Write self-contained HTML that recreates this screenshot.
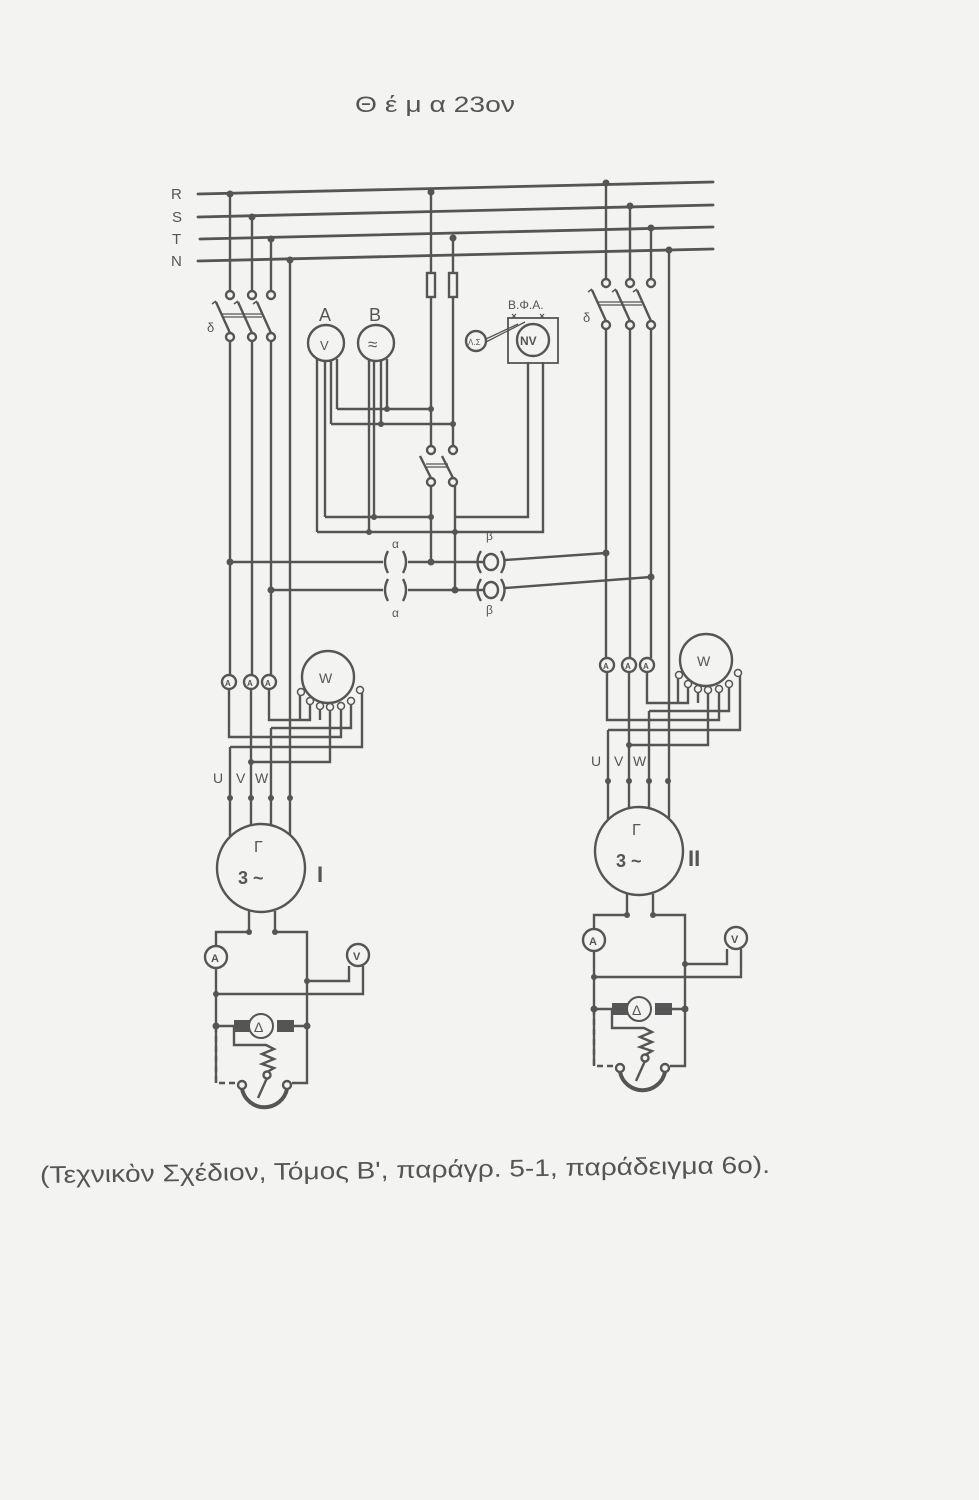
<!DOCTYPE html>
<html><head><meta charset="utf-8"><style>
html,body{margin:0;padding:0;background:#f3f3f1;}
svg{display:block;}
text{font-family:"Liberation Sans","DejaVu Sans",sans-serif;fill:#555;}
</style></head><body>
<svg width="979" height="1500" viewBox="0 0 979 1500" xmlns="http://www.w3.org/2000/svg">
<rect width="979" height="1500" fill="#f3f3f1"/>
<text x="355" y="112" font-size="22" textLength="160" lengthAdjust="spacingAndGlyphs" fill="#666">Θ έ μ α  23ον</text>

<g stroke="#555" stroke-width="2.8" fill="none" stroke-linecap="round">
<line x1="198" y1="194" x2="713" y2="182"/>
<line x1="198" y1="217" x2="713" y2="205"/>
<line x1="200" y1="239" x2="713" y2="227"/>
<line x1="198" y1="261" x2="713" y2="249"/>
</g>
<g font-size="15" fill="#555"><text x="171" y="199">R</text><text x="172" y="222">S</text><text x="172" y="244">T</text><text x="171" y="266">N</text></g>

<g stroke="#555" stroke-width="2.4" fill="none">
<path d="M230 194V291 M252 217V291 M271 239V291"/>
<path d="M230 341V675"/>
<path d="M290 260V836"/>
<path d="M252 341V675 M271 341V675"/>
<circle cx="230" cy="295" r="4" fill="#f3f3f1"/><circle cx="252" cy="295" r="4" fill="#f3f3f1"/><circle cx="271" cy="295" r="4" fill="#f3f3f1"/>
<circle cx="230" cy="337" r="4" fill="#f3f3f1"/><circle cx="252" cy="337" r="4" fill="#f3f3f1"/><circle cx="271" cy="337" r="4" fill="#f3f3f1"/>
<path d="M230 333L216 302 M252 333L238 302 M271 333L257 302"/>
<path d="M222 314H262" stroke-width="1.2"/><path d="M222 317H262" stroke-width="1.2"/>
<path d="M212 304l4-3 M234 304l4-3 M253 304l4-3" stroke-width="1.5"/>

<path d="M606 183V279 M630 206V279 M651 228V279"/>
<path d="M669 250V818"/>
<path d="M606 329V658 M630 329V658 M651 329V658"/>
<circle cx="606" cy="283" r="4" fill="#f3f3f1"/><circle cx="630" cy="283" r="4" fill="#f3f3f1"/><circle cx="651" cy="283" r="4" fill="#f3f3f1"/>
<circle cx="606" cy="325" r="4" fill="#f3f3f1"/><circle cx="630" cy="325" r="4" fill="#f3f3f1"/><circle cx="651" cy="325" r="4" fill="#f3f3f1"/>
<path d="M606 321L592 290 M630 321L616 290 M651 321L637 290"/>
<path d="M598 302H642" stroke-width="1.2"/><path d="M598 305H642" stroke-width="1.2"/>
<path d="M588 292l4-3 M612 292l4-3 M633 292l4-3" stroke-width="1.5"/>

<path d="M431 192V273 M431 297V446 M453 238V273 M453 297V446"/>
<rect x="427" y="273" width="8" height="24" fill="#f3f3f1"/><rect x="449" y="273" width="8" height="24" fill="#f3f3f1"/>
<circle cx="431" cy="450" r="4" fill="#f3f3f1"/><circle cx="453" cy="450" r="4" fill="#f3f3f1"/>
<circle cx="431" cy="482" r="4" fill="#f3f3f1"/><circle cx="453" cy="482" r="4" fill="#f3f3f1"/>
<path d="M431 478L420 456 M453 478L442 456"/>
<path d="M426 464H448 M426 467H448" stroke-width="1.2"/>
<path d="M431 486V562 M455 486V590"/>

<circle cx="326" cy="343" r="18" fill="#f3f3f1"/>
<circle cx="376" cy="343" r="18" fill="#f3f3f1"/>
<path d="M317 359V532 M325 361V517 M331 361V424 M337 359V409"/>
<path d="M369 360V532 M374 361V517 M381 361V424 M387 359V409"/>
<path d="M337 409H431 M331 424H453 M325 517H431 M317 532H455 M455 517H528V362 M455 532H543V362"/>
<rect x="508" y="318" width="50" height="45" stroke-width="1.8"/>
<circle cx="533" cy="340" r="16" fill="#f3f3f1"/>
<circle cx="476" cy="341" r="10" fill="#f3f3f1"/>
<path d="M486 339L518 324 M486 342L525 322" stroke-width="1.3"/>
<path d="M512 318l4-4 M512 314l4 4 M540 318l4-4 M540 314l4 4" stroke-width="1.2"/>

<path d="M230 562H383 M408 562H490 M505 560L606 553"/>
<path d="M271 590H383 M408 590H490 M505 588L651 577"/>
<path d="M388 551q-6 11 0 22 M403 551q6 11 0 22 M388 579q-6 11 0 22 M403 579q6 11 0 22"/>
<path d="M481 551q-7 11 0 22 M501 551q7 11 0 22 M481 579q-7 11 0 22 M501 579q7 11 0 22"/>
<ellipse cx="491" cy="562" rx="7" ry="8" fill="#f3f3f1"/><ellipse cx="491" cy="590" rx="7" ry="8" fill="#f3f3f1"/>
</g>
<g fill="#555">
<circle cx="230" cy="194" r="3.5"/><circle cx="252" cy="217" r="3.5"/><circle cx="271" cy="239" r="3.5"/><circle cx="290" cy="260" r="3.5"/>
<circle cx="431" cy="192" r="3.5"/><circle cx="453" cy="238" r="3.5"/>
<circle cx="606" cy="183" r="3.5"/><circle cx="630" cy="206" r="3.5"/><circle cx="651" cy="228" r="3.5"/><circle cx="669" cy="250" r="3.5"/>
<circle cx="431" cy="409" r="3"/><circle cx="387" cy="409" r="3"/><circle cx="453" cy="424" r="3"/><circle cx="381" cy="424" r="3"/>
<circle cx="374" cy="517" r="3"/><circle cx="431" cy="517" r="3"/><circle cx="369" cy="532" r="3"/><circle cx="455" cy="532" r="3"/>
<circle cx="230" cy="562" r="3.5"/><circle cx="431" cy="562" r="3.5"/><circle cx="271" cy="590" r="3.5"/><circle cx="455" cy="590" r="3.5"/>
<circle cx="606" cy="553" r="3.5"/><circle cx="651" cy="577" r="3.5"/>
</g>
<g font-size="16">
<text x="319" y="321" font-size="18">A</text><text x="369" y="321" font-size="18">B</text>
<text x="207" y="332" font-size="13">δ</text><text x="583" y="322" font-size="13">δ</text>
<text x="320" y="350" font-size="13">V</text><text x="368" y="350" font-size="17">≈</text>
<text x="520" y="345" font-size="12" font-weight="bold">NV</text>
<text x="468" y="345" font-size="8">Λ.Σ</text>
<text x="508" y="309" font-size="12">Β.Φ.Α.</text>
<text x="392" y="548" font-size="12">α</text><text x="392" y="617" font-size="12">α</text>
<text x="486" y="540" font-size="12">β</text><text x="486" y="614" font-size="12">β</text>
</g>

<g>
<g stroke="#555" stroke-width="2.4" fill="none">
<circle cx="229" cy="682" r="7" fill="#f3f3f1"/><circle cx="251" cy="682" r="7" fill="#f3f3f1"/><circle cx="269" cy="682" r="7" fill="#f3f3f1"/>
<circle cx="328" cy="677" r="26" fill="#f3f3f1"/>
<path d="M269 689V720H310V701 M300 692V720 M320 706V720"/>
<path d="M229 689V737H341V706"/>
<path d="M230 747H362V690 M230 747V836"/>
<path d="M251 689V836"/>
<path d="M251 762H330V707"/>
<path d="M271 728H351V701 M271 728V836"/>
<circle cx="301" cy="692" r="3.5" fill="#f3f3f1" stroke-width="1.5"/><circle cx="310" cy="701" r="3.5" fill="#f3f3f1" stroke-width="1.5"/><circle cx="320" cy="706" r="3.5" fill="#f3f3f1" stroke-width="1.5"/><circle cx="330" cy="707" r="3.5" fill="#f3f3f1" stroke-width="1.5"/><circle cx="341" cy="706" r="3.5" fill="#f3f3f1" stroke-width="1.5"/><circle cx="351" cy="701" r="3.5" fill="#f3f3f1" stroke-width="1.5"/><circle cx="360" cy="690" r="3.5" fill="#f3f3f1" stroke-width="1.5"/>
<circle cx="261" cy="868" r="44" fill="#f3f3f1"/>
<path d="M249 911V932H216V946 M216 968V1083 M275 911V932H307V1083H292"/>
<circle cx="216" cy="957" r="11" fill="#f3f3f1"/>
<circle cx="358" cy="955" r="11" fill="#f3f3f1"/>
<path d="M307 981H349V966 M216 994H363V966"/>
<path d="M216 1026H234 M294 1026H307"/>
<path d="M234 1026V1045H266L274 1049L262 1054L274 1059L262 1064L274 1068L267 1072"/>
<path d="M216 1026V1083H238" stroke-dasharray="6 4"/>
<path d="M242 1089A23 23 0 0 0 287 1089" stroke-width="4"/>
<path d="M267 1078L258 1098"/>
<circle cx="242" cy="1085" r="4" fill="#f3f3f1"/><circle cx="287" cy="1085" r="4" fill="#f3f3f1"/><circle cx="267" cy="1075" r="3.5" fill="#f3f3f1"/>
</g>
<rect x="234" y="1020" width="16" height="12" fill="#555"/><rect x="277" y="1020" width="17" height="12" fill="#555"/>
<circle cx="261" cy="1026" r="12" fill="#f3f3f1" stroke="#555" stroke-width="2"/>
<g fill="#555">
<circle cx="251" cy="762" r="3"/><circle cx="230" cy="798" r="3"/><circle cx="251" cy="798" r="3"/><circle cx="271" cy="798" r="3"/><circle cx="290" cy="798" r="3"/>
<circle cx="249" cy="932" r="3"/><circle cx="275" cy="932" r="3"/><circle cx="307" cy="981" r="3"/><circle cx="216" cy="994" r="3"/>
<circle cx="216" cy="1026" r="3.5"/><circle cx="307" cy="1026" r="3.5"/>
</g>
<g font-size="14">
<text x="225" y="686" font-size="8" font-weight="bold">A</text><text x="247" y="686" font-size="8" font-weight="bold">A</text><text x="265" y="686" font-size="8" font-weight="bold">A</text>
<text x="319" y="683" font-size="14">W</text>
<text x="213" y="783">U</text><text x="236" y="783">V</text><text x="255" y="783">W</text>
<text x="254" y="852" font-size="16">Γ</text><text x="238" y="884" font-size="18" font-weight="bold">3 ~</text>
<text x="211" y="962" font-size="11" font-weight="bold">A</text><text x="353" y="960" font-size="11" font-weight="bold">V</text>
<text x="254" y="1032" font-size="14">Δ</text>
</g>
</g>
<text x="317" y="882" font-size="22" font-family="Liberation Serif,serif" font-weight="bold" fill="#555">I</text>

<g transform="translate(378,-17)">
<g stroke="#555" stroke-width="2.4" fill="none">
<circle cx="229" cy="682" r="7" fill="#f3f3f1"/><circle cx="251" cy="682" r="7" fill="#f3f3f1"/><circle cx="269" cy="682" r="7" fill="#f3f3f1"/>
<circle cx="328" cy="677" r="26" fill="#f3f3f1"/>
<path d="M269 689V720H310V701 M300 692V720 M320 706V720"/>
<path d="M229 689V737H341V706"/>
<path d="M230 747H362V690 M230 747V836"/>
<path d="M251 689V836"/>
<path d="M251 762H330V707"/>
<path d="M271 728H351V701 M271 728V836"/>
<circle cx="301" cy="692" r="3.5" fill="#f3f3f1" stroke-width="1.5"/><circle cx="310" cy="701" r="3.5" fill="#f3f3f1" stroke-width="1.5"/><circle cx="320" cy="706" r="3.5" fill="#f3f3f1" stroke-width="1.5"/><circle cx="330" cy="707" r="3.5" fill="#f3f3f1" stroke-width="1.5"/><circle cx="341" cy="706" r="3.5" fill="#f3f3f1" stroke-width="1.5"/><circle cx="351" cy="701" r="3.5" fill="#f3f3f1" stroke-width="1.5"/><circle cx="360" cy="690" r="3.5" fill="#f3f3f1" stroke-width="1.5"/>
<circle cx="261" cy="868" r="44" fill="#f3f3f1"/>
<path d="M249 911V932H216V946 M216 968V1083 M275 911V932H307V1083H292"/>
<circle cx="216" cy="957" r="11" fill="#f3f3f1"/>
<circle cx="358" cy="955" r="11" fill="#f3f3f1"/>
<path d="M307 981H349V966 M216 994H363V966"/>
<path d="M216 1026H234 M294 1026H307"/>
<path d="M234 1026V1045H266L274 1049L262 1054L274 1059L262 1064L274 1068L267 1072"/>
<path d="M216 1026V1083H238" stroke-dasharray="6 4"/>
<path d="M242 1089A23 23 0 0 0 287 1089" stroke-width="4"/>
<path d="M267 1078L258 1098"/>
<circle cx="242" cy="1085" r="4" fill="#f3f3f1"/><circle cx="287" cy="1085" r="4" fill="#f3f3f1"/><circle cx="267" cy="1075" r="3.5" fill="#f3f3f1"/>
</g>
<rect x="234" y="1020" width="16" height="12" fill="#555"/><rect x="277" y="1020" width="17" height="12" fill="#555"/>
<circle cx="261" cy="1026" r="12" fill="#f3f3f1" stroke="#555" stroke-width="2"/>
<g fill="#555">
<circle cx="251" cy="762" r="3"/><circle cx="230" cy="798" r="3"/><circle cx="251" cy="798" r="3"/><circle cx="271" cy="798" r="3"/><circle cx="290" cy="798" r="3"/>
<circle cx="249" cy="932" r="3"/><circle cx="275" cy="932" r="3"/><circle cx="307" cy="981" r="3"/><circle cx="216" cy="994" r="3"/>
<circle cx="216" cy="1026" r="3.5"/><circle cx="307" cy="1026" r="3.5"/>
</g>
<g font-size="14">
<text x="225" y="686" font-size="8" font-weight="bold">A</text><text x="247" y="686" font-size="8" font-weight="bold">A</text><text x="265" y="686" font-size="8" font-weight="bold">A</text>
<text x="319" y="683" font-size="14">W</text>
<text x="213" y="783">U</text><text x="236" y="783">V</text><text x="255" y="783">W</text>
<text x="254" y="852" font-size="16">Γ</text><text x="238" y="884" font-size="18" font-weight="bold">3 ~</text>
<text x="211" y="962" font-size="11" font-weight="bold">A</text><text x="353" y="960" font-size="11" font-weight="bold">V</text>
<text x="254" y="1032" font-size="14">Δ</text>
</g>
</g>
<text x="688" y="866" font-size="22" font-family="Liberation Serif,serif" font-weight="bold" fill="#555">II</text>

<text x="40" y="1178" font-size="24" textLength="730" lengthAdjust="spacingAndGlyphs" fill="#555" transform="rotate(-0.8 400 1170)">(Τεχνικὸν Σχέδιον, Τόμος Β', παράγρ. 5-1, παράδειγμα 6ο).</text>
</svg>
</body></html>
